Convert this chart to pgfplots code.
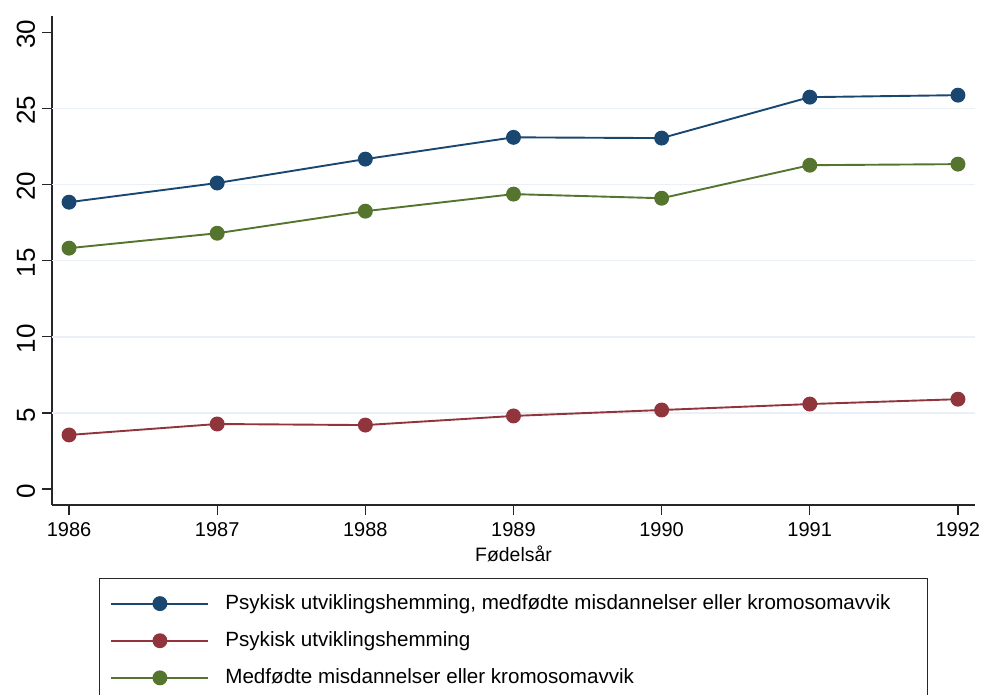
\documentclass[border=0pt]{standalone}
\usepackage{pgfplots}
\pgfplotsset{compat=1.18}
\usepackage{fontspec}
\setmainfont{Liberation Sans}
\definecolor{snavy}{RGB}{26,71,111}
\definecolor{smaroon}{RGB}{144,53,59}
\definecolor{sgreen}{RGB}{85,117,47}
\definecolor{sgrid}{RGB}{234,240,245}
\begin{document}
\begin{tikzpicture}
\begin{axis}[
  scale only axis, width=461.5pt, height=244.5pt,
  xmin=1985.885, xmax=1992.115, ymin=-1.05, ymax=31.07,
  axis lines=left, axis line style={-, line width=0.65pt, black!85},
  xtick={1986,...,1992}, ytick={0,5,...,30},
  tick align=outside, major tick length=5pt,
  tick style={line width=0.65pt, black!85},
  /pgf/number format/1000 sep={},
  /pgf/number format/assume math mode=true,
  xticklabel style={font=\fontsize{10}{12}\selectfont},
  yticklabel style={font=\fontsize{13}{15}\selectfont, rotate=90, anchor=south, xshift=-1pt},
  extra y ticks={5,10,15,20,25},
  extra y tick labels={},
  extra y tick style={grid=major, major grid style={sgrid, line width=0.8pt}, major tick length=0pt},
  xlabel={Fødelsår},
  xlabel style={font=\fontsize{9.7}{11}\selectfont, yshift=2pt},
  legend cell align=left,
  legend style={at={(0.5,0)}, anchor=north, yshift=-36.5pt, draw=black!85, line width=0.65pt,
    font=\fontsize{10.3}{12.5}\selectfont, inner xsep=5.5pt, inner ysep=6pt, row sep=5.6pt, column sep=6pt},
  legend image code/.code={\draw[mark repeat=2,mark phase=2,#1,line width=0.95pt] plot coordinates {(0pt,0pt)(24.25pt,0pt)(48.5pt,0pt)};},
]
\coordinate (bl) at (rel axis cs:0,0);
\coordinate (tr) at (rel axis cs:1,1);
\addplot[snavy, line width=0.95pt, mark=*, mark size=3.25pt] coordinates {
  (1986,18.84) (1987,20.10) (1988,21.67) (1989,23.10) (1990,23.05) (1991,25.74) (1992,25.87)};
\addlegendentry{Psykisk utviklingshemming, medfødte misdannelser eller kromosomavvik\hspace*{11pt}}
\addplot[smaroon, line width=0.95pt, mark=*, mark size=3.25pt] coordinates {
  (1986,3.55) (1987,4.27) (1988,4.20) (1989,4.80) (1990,5.19) (1991,5.58) (1992,5.90)};
\addlegendentry{Psykisk utviklingshemming}
\addplot[sgreen, line width=0.95pt, mark=*, mark size=3.25pt] coordinates {
  (1986,15.82) (1987,16.80) (1988,18.25) (1989,19.37) (1990,19.10) (1991,21.27) (1992,21.34)};
\addlegendentry{Medfødte misdannelser eller kromosomavvik}
\end{axis}
\pgfresetboundingbox
\path[use as bounding box] ([shift={(-26pt,-95pt)}]bl) rectangle ([shift={(3.5pt,8pt)}]tr);
\end{tikzpicture}
\end{document}
